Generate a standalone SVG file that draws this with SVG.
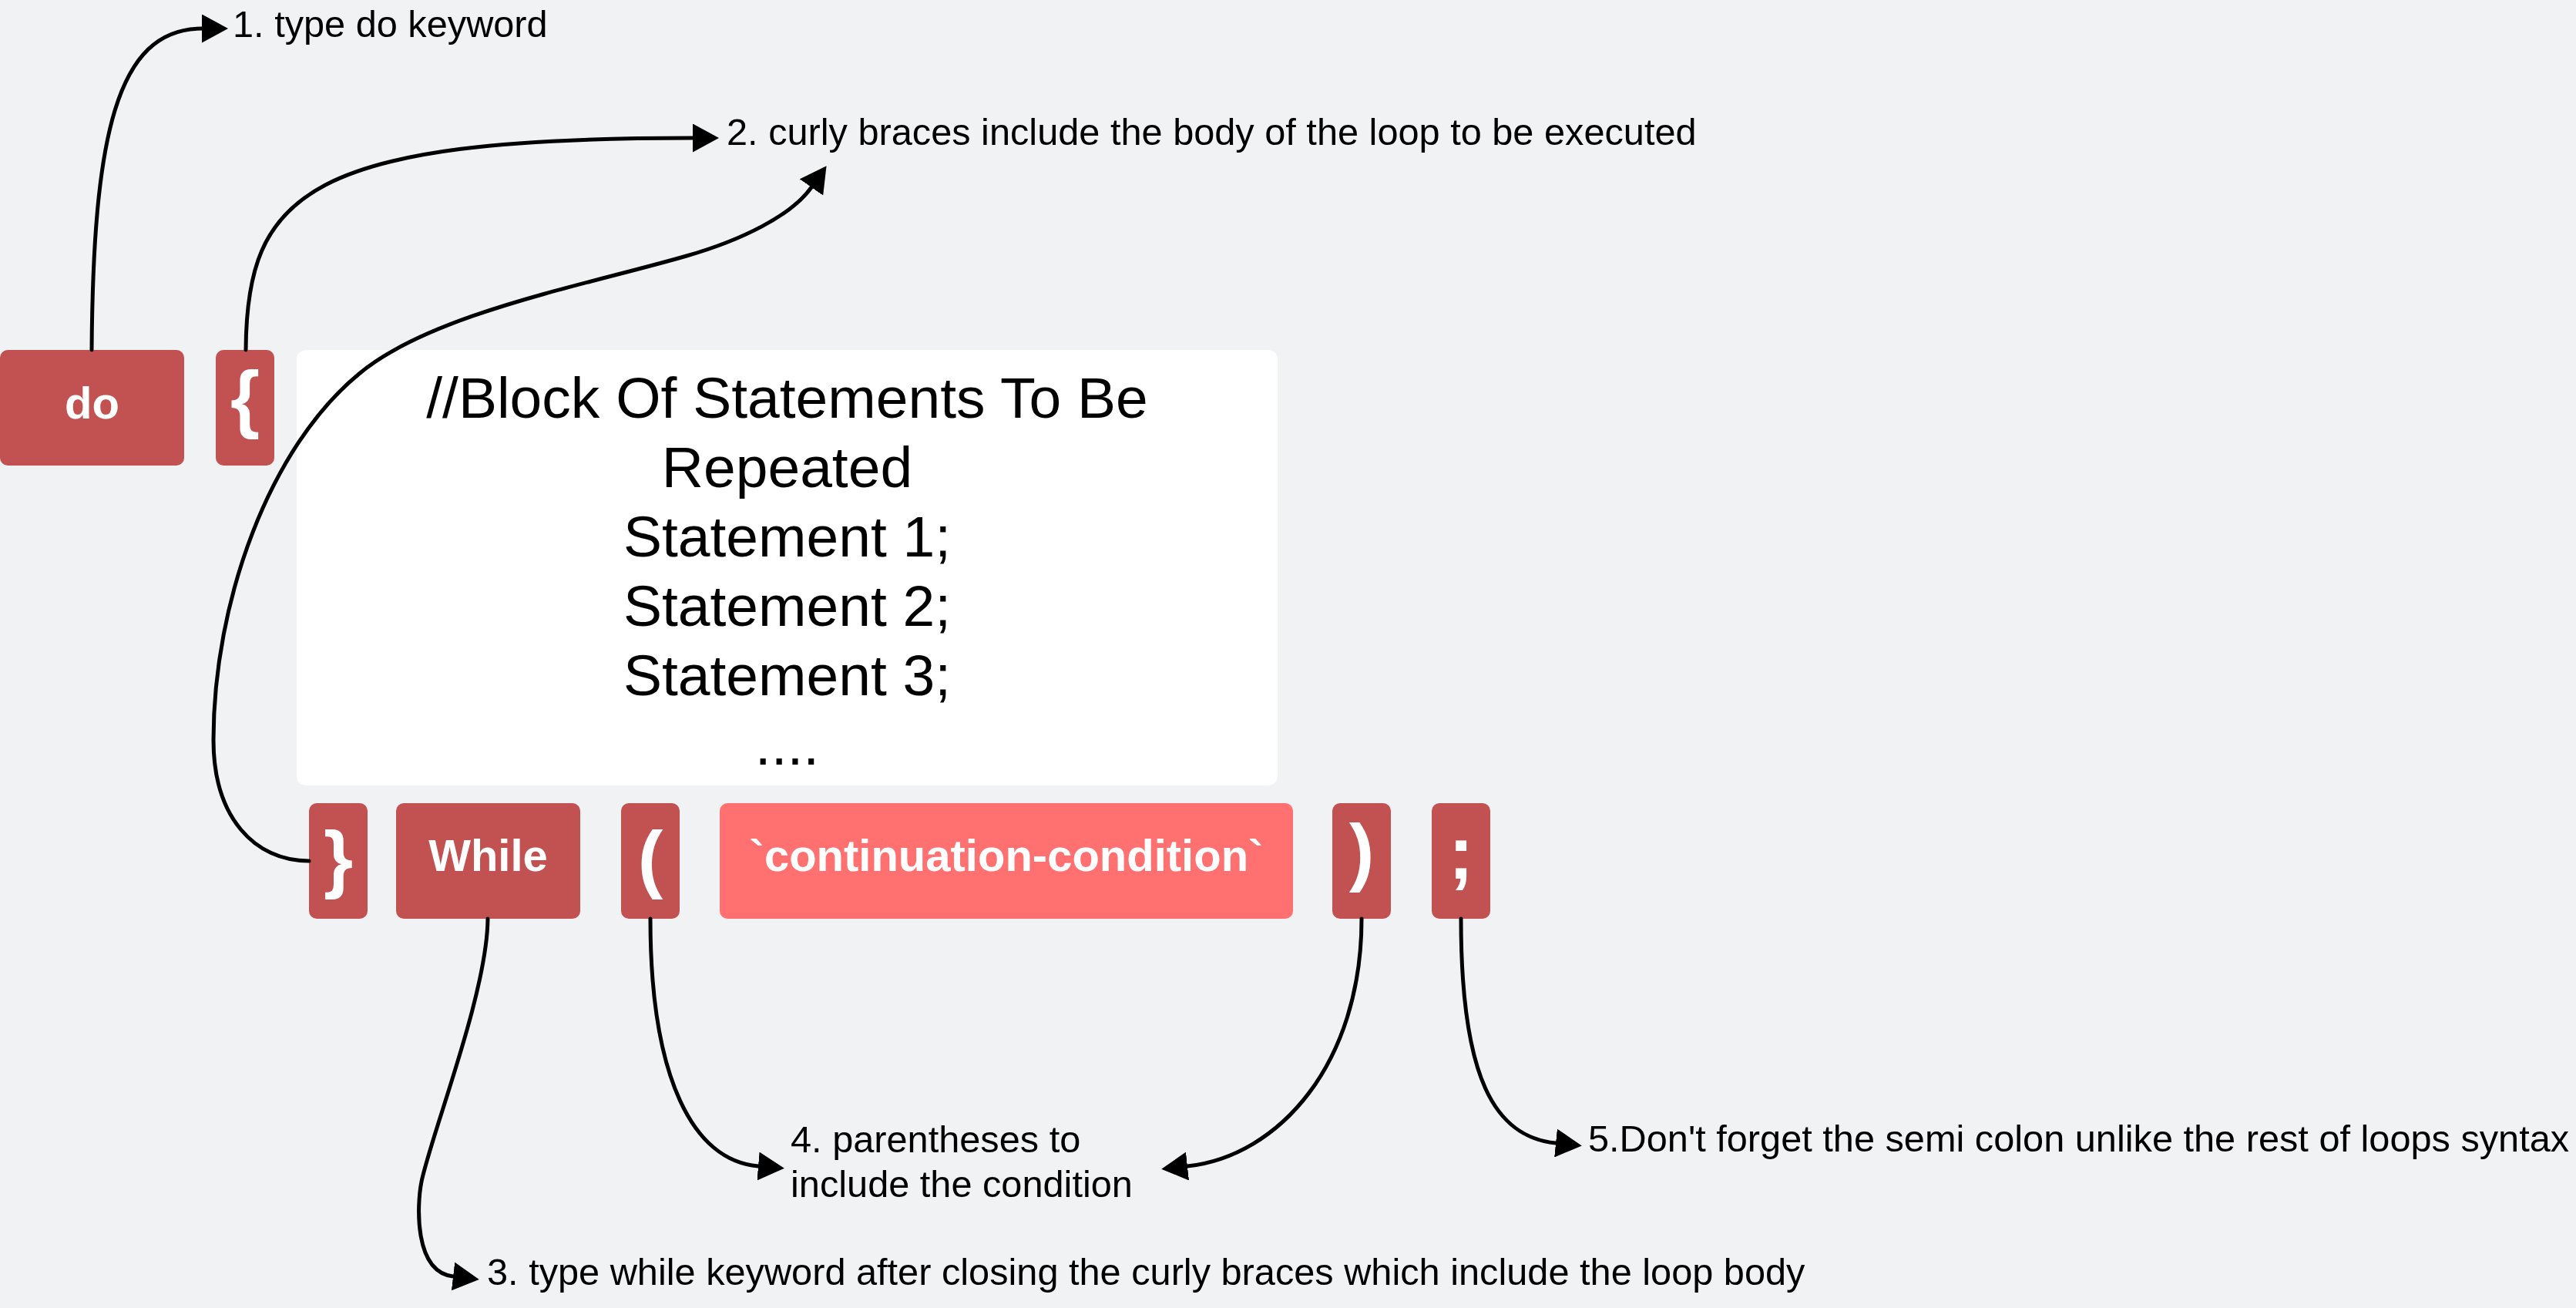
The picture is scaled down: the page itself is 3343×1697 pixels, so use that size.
<svg xmlns="http://www.w3.org/2000/svg" width="3343" height="1697" viewBox="0 0 3343 1697">
<style>
.box{fill:#C25252}
.cond{fill:#FF7171}
.lbl{font-family:"Liberation Sans",Arial,sans-serif;font-weight:bold;fill:#FFFFFF;text-anchor:middle}
.sym{font-family:"Liberation Sans",Arial,sans-serif;font-weight:bold;fill:#FFFFFF;text-anchor:middle;font-size:98px}
.body{font-family:"Liberation Sans",Arial,sans-serif;font-size:75px;fill:#000000;text-anchor:middle}
.note{font-family:"Liberation Sans",Arial,sans-serif;font-size:48.7px;fill:#000000}
.conn{fill:none;stroke:#000000;stroke-width:5;stroke-linecap:round}
</style>
<defs>
<marker id="arrow" markerUnits="userSpaceOnUse" markerWidth="34" markerHeight="37" viewBox="0 0 34 37" refX="0" refY="18.5" orient="auto">
<path d="M0,0 L34,18.5 L0,37 Z" fill="#000000"/>
</marker>
</defs>
<rect x="0" y="0" width="3343" height="1697" fill="#F1F2F4"/>

<g id="node-do"><rect class="box" x="0" y="454" width="239" height="150" rx="10"/><text class="lbl" x="119.5" y="543" font-size="58">do</text></g>
<g id="node-open-brace"><rect class="box" x="280" y="454" width="76" height="150" rx="10"/><text class="sym" x="318" y="550">{</text></g>
<g id="node-body"><rect x="385" y="454" width="1273" height="565" rx="12" fill="#FFFFFF"/>
<text class="body" x="1021.5" y="542">//Block Of Statements To Be</text>
<text class="body" x="1021.5" y="632">Repeated</text>
<text class="body" x="1021.5" y="722">Statement 1;</text>
<text class="body" x="1021.5" y="812">Statement 2;</text>
<text class="body" x="1021.5" y="902">Statement 3;</text>
<text class="body" x="1021.5" y="992">....</text></g>
<g id="node-close-brace"><rect class="box" x="401" y="1042" width="76" height="150" rx="10"/><text class="sym" x="439" y="1147">}</text></g>
<g id="node-while"><rect class="box" x="514" y="1042" width="239" height="150" rx="10"/><text class="lbl" x="633.5" y="1130" font-size="58">While</text></g>
<g id="node-open-paren"><rect class="box" x="806" y="1042" width="76" height="150" rx="10"/><text class="sym" x="844" y="1147">(</text></g>
<g id="node-condition"><rect class="cond" x="934" y="1042" width="744" height="150" rx="10"/><text class="lbl" x="1306" y="1130" font-size="58">`continuation-condition`</text></g>
<g id="node-close-paren"><rect class="box" x="1729" y="1042" width="76" height="150" rx="10"/><text class="sym" x="1767" y="1138">)</text></g>
<g id="node-semicolon"><rect class="box" x="1858" y="1042" width="76" height="150" rx="10"/><text class="sym" x="1896" y="1140">;</text></g>

<g id="note-1"><text class="note" x="302" y="48">1. type do keyword</text></g>
<g id="note-2"><text class="note" x="943" y="188">2. curly braces include the body of the loop to be executed</text></g>
<g id="note-3"><text class="note" x="632" y="1667">3. type while keyword after closing the curly braces which include the loop body</text></g>
<g id="note-4"><text class="note" x="1026" y="1495">4. parentheses to</text><text class="note" x="1026" y="1553">include the condition</text></g>
<g id="note-5"><text class="note" x="2061" y="1494">5.Don't forget the semi colon unlike the rest of loops syntax</text></g>

<g id="connectors">
<path class="conn" d="M119,454 C121,180 150,37 262,37" marker-end="url(#arrow)"/>
<path class="conn" d="M319,454 C320,250 400,179 899,179" marker-end="url(#arrow)"/>
<path class="conn" d="M401,1117 C330,1117 277,1060 277,960 C277,780 350,580 466,485 C559,407 760,370 891,332 C961,312 1027,280 1053,243" marker-end="url(#arrow)"/>
<path class="conn" d="M633,1192 C632,1290 560,1470 547,1533 C541,1563 537,1650 588,1656" marker-end="url(#arrow)"/>
<path class="conn" d="M844,1192 C844,1400 900,1506 984,1513" marker-end="url(#arrow)"/>
<path class="conn" d="M1767,1192 C1767,1380 1660,1500 1541,1513" marker-end="url(#arrow)"/>
<path class="conn" d="M1896,1192 C1896,1400 1940,1475 2019,1483" marker-end="url(#arrow)"/>
</g>
</svg>
